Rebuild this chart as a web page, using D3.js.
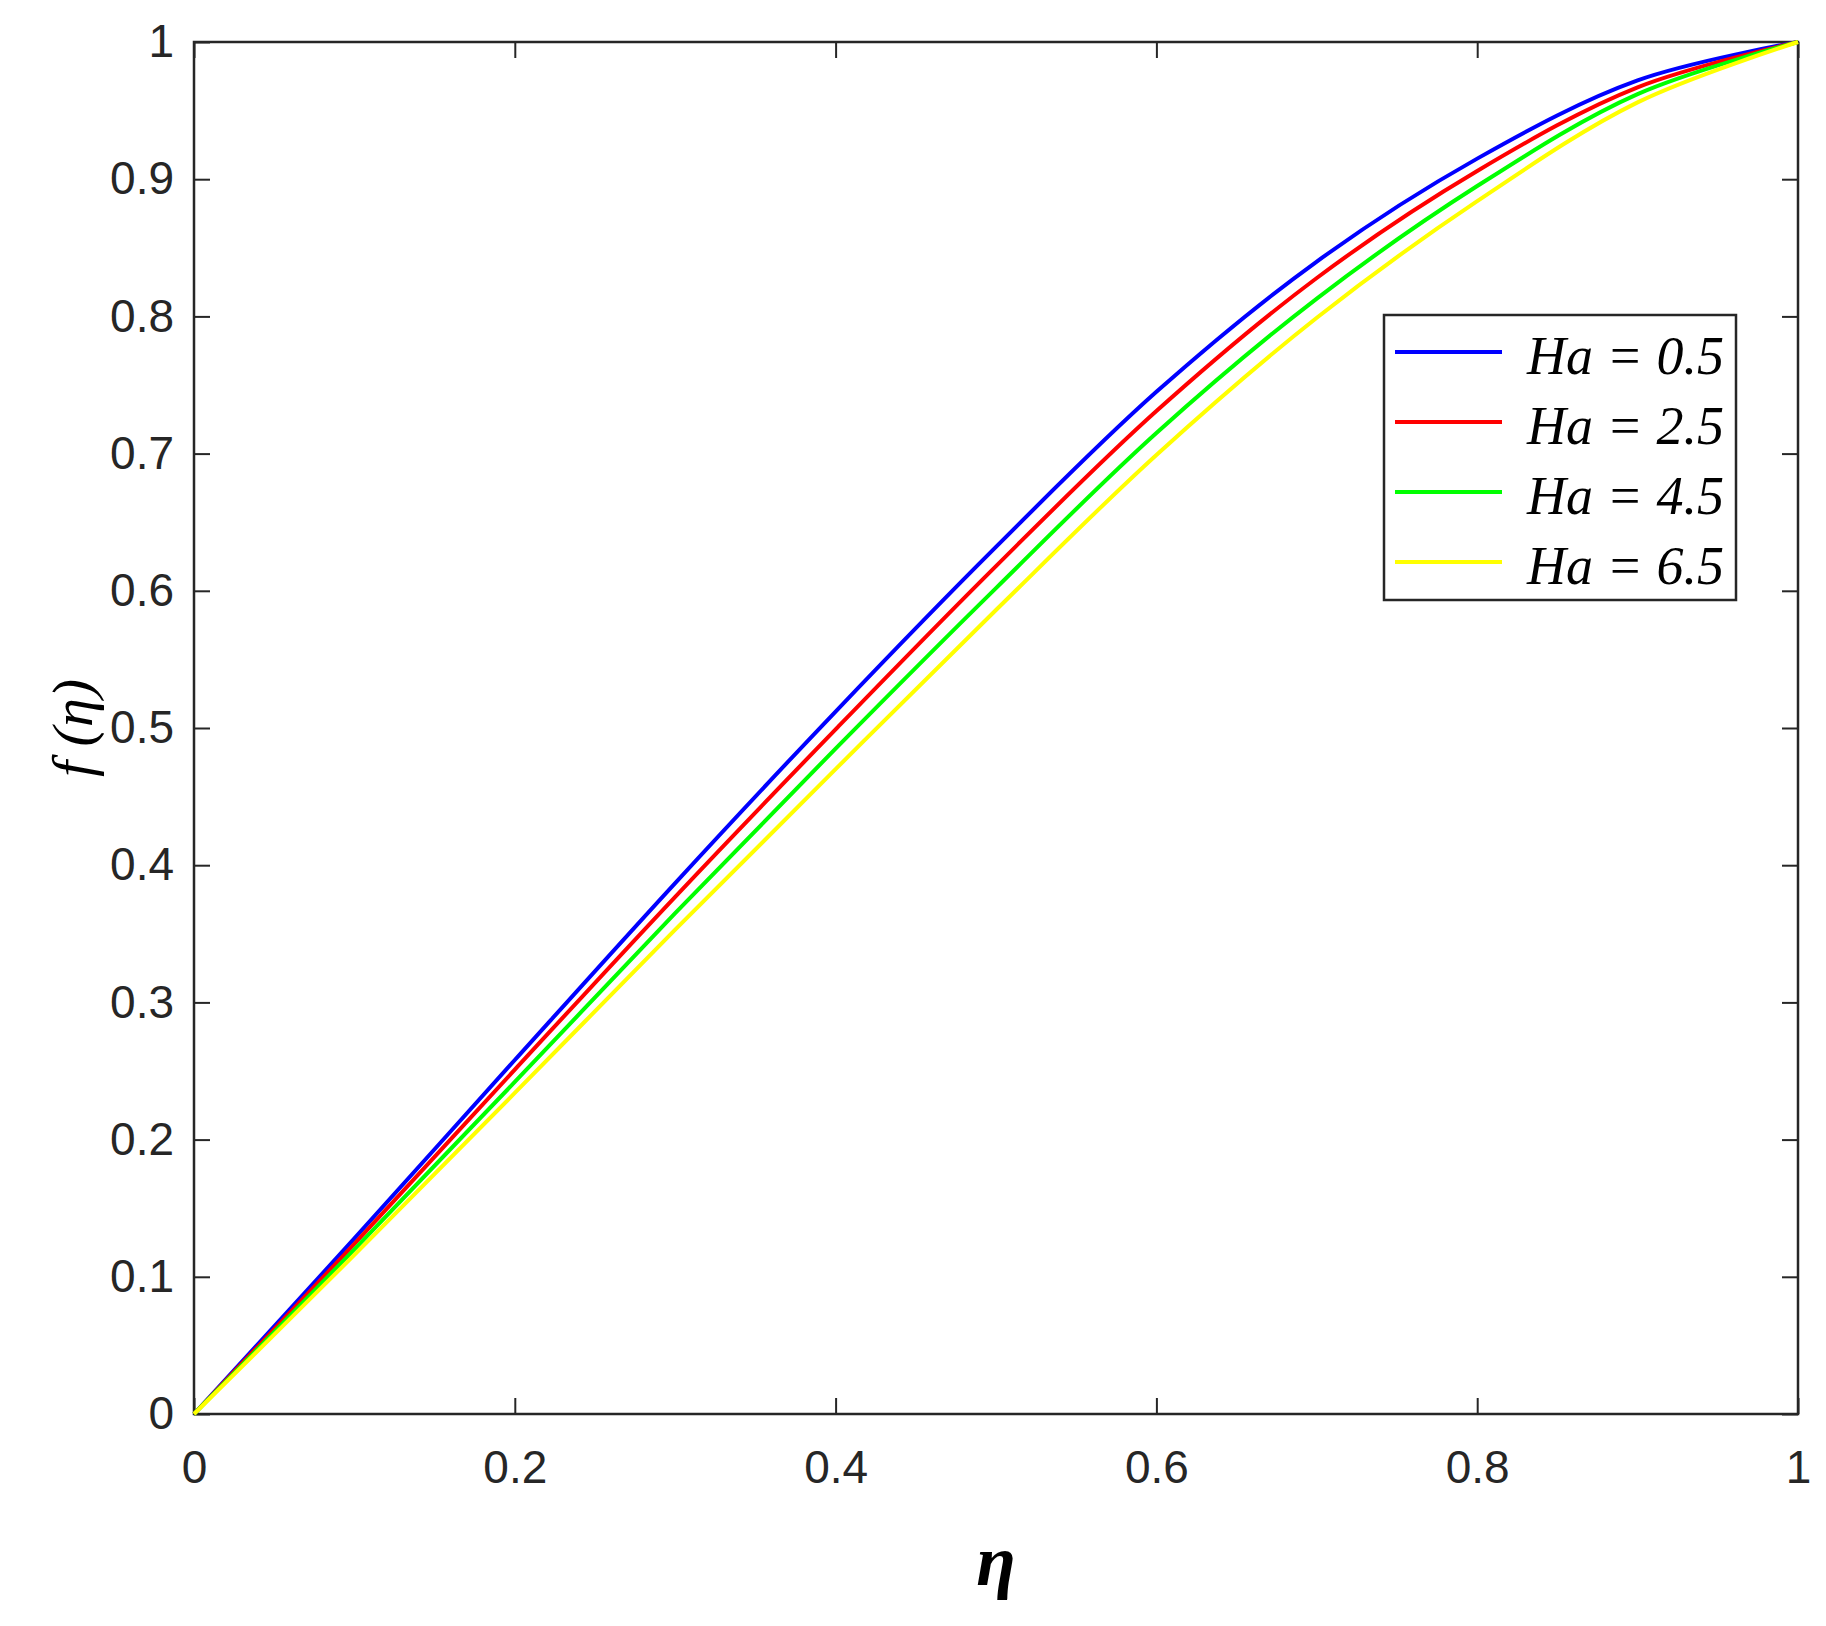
<!DOCTYPE html>
<html>
<head>
<meta charset="utf-8">
<script src="https://cdn.jsdelivr.net/npm/d3@7"></script>
<style>
body { margin: 0; background: #fff; }
</style>
</head>
<body>
<div id="my_dataviz"></div>
<script>

var etaValues = [0, 0.1, 0.2, 0.3, 0.4, 0.5, 0.6, 0.7, 0.8, 0.9, 1];
var ha05 = [0, 0.128, 0.258, 0.387, 0.512, 0.632, 0.745, 0.840, 0.915, 0.972, 1];
var ha25 = [0, 0.124, 0.251, 0.377, 0.499, 0.618, 0.731, 0.828, 0.906, 0.967, 1];
var ha45 = [0, 0.120, 0.242, 0.365, 0.485, 0.602, 0.715, 0.813, 0.895, 0.962, 1];
var ha65 = [0, 0.116, 0.234, 0.353, 0.470, 0.586, 0.699, 0.799, 0.884, 0.956, 1];
var seriesNames = ["Ha = 0.5", "Ha = 2.5", "Ha = 4.5", "Ha = 6.5"];
var seriesColors = ["#0000ff", "#ff0000", "#00ff00", "#ffff00"];
var xTicks = [0, 0.2, 0.4, 0.6, 0.8, 1];
var yTicks = [0, 0.1, 0.2, 0.3, 0.4, 0.5, 0.6, 0.7, 0.8, 0.9, 1];

var margin = {top: 42, right: 28, bottom: 212, left: 194},
    width = 1826 - margin.left - margin.right,
    height = 1626 - margin.top - margin.bottom;

var svg = d3.select("#my_dataviz")
  .append("svg")
    .attr("width", 1826)
    .attr("height", 1626)
  .append("g")
    .attr("transform", "translate(" + margin.left + "," + margin.top + ")");

var x = d3.scaleLinear().domain([0, 1]).range([0, width]);
var y = d3.scaleLinear().domain([0, 1]).range([height, 0]);

var axisColor = "#262626";
var fmt = function(d) { return d3.format("")(+d.toFixed(1)); };

function styleAxis(g, showText) {
  g.select(".domain").remove();
  g.selectAll("line").attr("stroke", axisColor).attr("stroke-width", 2);
  g.selectAll("text")
    .attr("fill", axisColor)
    .style("font-family", "Liberation Sans, Arial, sans-serif")
    .style("font-size", "46px")
    .style("display", showText ? null : "none");
}

// bottom / top
svg.append("g").attr("transform", "translate(0," + height + ")")
  .call(d3.axisBottom(x).tickValues(xTicks).tickSize(-16).tickPadding(36).tickFormat(fmt))
  .call(styleAxis, true);
svg.append("g")
  .call(d3.axisTop(x).tickValues(xTicks).tickSize(-16).tickFormat(fmt))
  .call(styleAxis, false);
// left / right
svg.append("g")
  .call(d3.axisLeft(y).tickValues(yTicks).tickSize(-16).tickPadding(20).tickFormat(fmt))
  .call(styleAxis, true);
svg.append("g").attr("transform", "translate(" + width + ",0)")
  .call(d3.axisRight(y).tickValues(yTicks).tickSize(-16).tickFormat(fmt))
  .call(styleAxis, false);

svg.append("rect")
  .attr("width", width).attr("height", height)
  .attr("fill", "none").attr("stroke", axisColor).attr("stroke-width", 2.5);

var allSeries = [ha05, ha25, ha45, ha65];
var line = d3.line()
  .x(function(d, i) { return x(etaValues[i]); })
  .y(function(d) { return y(d); })
  .curve(d3.curveCatmullRom);

allSeries.forEach(function(s, i) {
  svg.append("path")
    .datum(s)
    .attr("d", line)
    .attr("fill", "none")
    .attr("stroke", seriesColors[i])
    .attr("stroke-width", 4);
});

// legend
var leg = svg.append("g").attr("transform", "translate(" + (1384 - margin.left) + "," + (315 - margin.top) + ")");
leg.append("rect")
  .attr("width", 352).attr("height", 285)
  .attr("fill", "#fff").attr("stroke", axisColor).attr("stroke-width", 2.5);
seriesNames.forEach(function(name, i) {
  var yy = 37 + i * 70;
  leg.append("line")
    .attr("x1", 11).attr("x2", 118).attr("y1", yy).attr("y2", yy)
    .attr("stroke", seriesColors[i]).attr("stroke-width", 4);
  leg.append("text")
    .attr("x", 143).attr("y", yy + 22)
    .style("font-family", "Liberation Serif, Times New Roman, serif")
    .style("font-style", "italic")
    .style("font-size", "54px")
    .text(name);
});

// axis labels
svg.append("text")
  .attr("x", x(0.5)).attr("y", 1585 - margin.top)
  .attr("text-anchor", "middle")
  .style("font-family", "Liberation Serif, Times New Roman, serif")
  .style("font-style", "italic").style("font-weight", "bold")
  .style("font-size", "72px")
  .text("η");

svg.append("text")
  .attr("transform", "translate(" + (92 - margin.left) + "," + (height / 2) + ") rotate(-90)")
  .attr("text-anchor", "middle")
  .style("font-family", "Liberation Serif, Times New Roman, serif")
  .style("font-style", "italic")
  .style("font-size", "58px")
  .text("f (η)");

</script>
</body>
</html>
